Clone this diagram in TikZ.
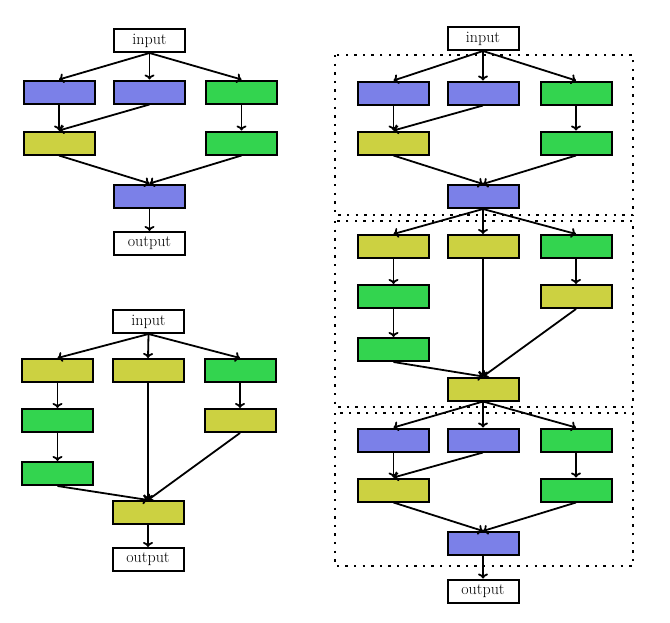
\documentclass[tikz,border=0pt]{standalone}
\usetikzlibrary{arrows.meta}
\definecolor{cblue}{RGB}{123,128,232}
\definecolor{cgreen}{RGB}{51,212,79}
\definecolor{cyel}{RGB}{204,209,65}
\begin{document}
\begin{tikzpicture}[x=1pt,y=-1pt,
  blk/.style={draw=black,line width=2pt,minimum width=71pt,minimum height=23pt,inner sep=0pt},
  bb/.style={blk,fill=cblue},
  gg/.style={blk,fill=cgreen},
  yy/.style={blk,fill=cyel},
  io/.style={blk,fill=white,font=\fontsize{16}{19}\selectfont},
  arr/.style={line width=1.8pt,-{To[length=5pt,width=10pt]}},
  dotbox/.style={line width=2.4pt,dash pattern=on 2.4pt off 6.2pt}]
\useasboundingbox (0,0) rectangle (670,622);
% ---------- top-left ----------
\node[io] (in1) at (149.5,40.5) {input};
\node[bb] (a1) at (59,92) {};
\node[bb] (b1) at (149.5,92) {};
\node[gg] (c1) at (241.5,92) {};
\node[yy] (a2) at (59,143) {};
\node[gg] (c2) at (241.5,143) {};
\node[bb] (m1) at (149.5,196) {};
\node[io] (out1) at (149.5,243.5) {output};
\draw[arr] (in1.south) -- (a1.north);
\draw[arr] (in1.south) -- (b1.north);
\draw[arr] (in1.south) -- (c1.north);
\draw[arr] (a1.south) -- (a2.north);
\draw[arr] (b1.south) -- (a2.north);
\draw[arr] (c1.south) -- (c2.north);
\draw[arr] (a2.south) -- (m1.north);
\draw[arr] (c2.south) -- (m1.north);
\draw[arr] (m1.south) -- (out1.north);
% ---------- bottom-left ----------
\node[io] (in2) at (148.5,321.5) {input};
\node[yy] (p1) at (57.5,370.5) {};
\node[yy] (q1) at (148,370.5) {};
\node[gg] (r1) at (240,370.5) {};
\node[gg] (p2) at (57.5,420.5) {};
\node[yy] (r2) at (240,420.5) {};
\node[gg] (p3) at (57.5,473.5) {};
\node[yy] (m2) at (148,512.5) {};
\node[io] (out2) at (148,559.5) {output};
\draw[arr] (in2.south) -- (p1.north);
\draw[arr] (in2.south) -- (q1.north);
\draw[arr] (in2.south) -- (r1.north);
\draw[arr] (p1.south) -- (p2.north);
\draw[arr] (p2.south) -- (p3.north);
\draw[arr] (r1.south) -- (r2.north);
\draw[arr] (p3.south) -- (m2.north);
\draw[arr] (q1.south) -- (m2.north);
\draw[arr] (r2.south) -- (m2.north);
\draw[arr] (m2.south) -- (out2.north);
% ---------- right ----------
\draw[dotbox] (335,55) rectangle (633,215);
\draw[dotbox] (335,221) rectangle (633,407);
\draw[dotbox] (335,413) rectangle (633,566);
\node[io] (in3) at (483,38.5) {input};
\node[bb] (s1) at (393.5,93) {};
\node[bb] (t1) at (483,93) {};
\node[gg] (u1) at (576,93) {};
\node[yy] (s2) at (393.5,143) {};
\node[gg] (u2) at (576,143) {};
\node[bb] (n1) at (483,196.5) {};
\draw[arr] (in3.south) -- (s1.north);
\draw[arr] (in3.south) -- (t1.north);
\draw[arr] (in3.south) -- (u1.north);
\draw[arr] (s1.south) -- (s2.north);
\draw[arr] (t1.south) -- (s2.north);
\draw[arr] (u1.south) -- (u2.north);
\draw[arr] (s2.south) -- (n1.north);
\draw[arr] (u2.south) -- (n1.north);
% box 2
\node[yy] (s3) at (393.5,246.5) {};
\node[yy] (t3) at (483,246.5) {};
\node[gg] (u3) at (576,246.5) {};
\node[gg] (s4) at (393.5,296.5) {};
\node[yy] (u4) at (576,296.5) {};
\node[gg] (s5) at (393.5,349.5) {};
\node[yy] (n2) at (483,389) {};
\draw[arr] (n1.south) -- (s3.north);
\draw[arr] (n1.south) -- (t3.north);
\draw[arr] (n1.south) -- (u3.north);
\draw[arr] (s3.south) -- (s4.north);
\draw[arr] (s4.south) -- (s5.north);
\draw[arr] (u3.south) -- (u4.north);
\draw[arr] (s5.south) -- (n2.north);
\draw[arr] (t3.south) -- (n2.north);
\draw[arr] (u4.south) -- (n2.north);
% box 3
\node[bb] (s6) at (393.5,440) {};
\node[bb] (t6) at (483,440) {};
\node[gg] (u6) at (576,440) {};
\node[yy] (s7) at (393.5,490) {};
\node[gg] (u7) at (576,490) {};
\node[bb] (n3) at (483,543.5) {};
\node[io] (out3) at (483,591) {output};
\draw[arr] (n2.south) -- (s6.north);
\draw[arr] (n2.south) -- (t6.north);
\draw[arr] (n2.south) -- (u6.north);
\draw[arr] (s6.south) -- (s7.north);
\draw[arr] (t6.south) -- (s7.north);
\draw[arr] (u6.south) -- (u7.north);
\draw[arr] (s7.south) -- (n3.north);
\draw[arr] (u7.south) -- (n3.north);
\draw[arr] (n3.south) -- (out3.north);
\end{tikzpicture}
\end{document}
